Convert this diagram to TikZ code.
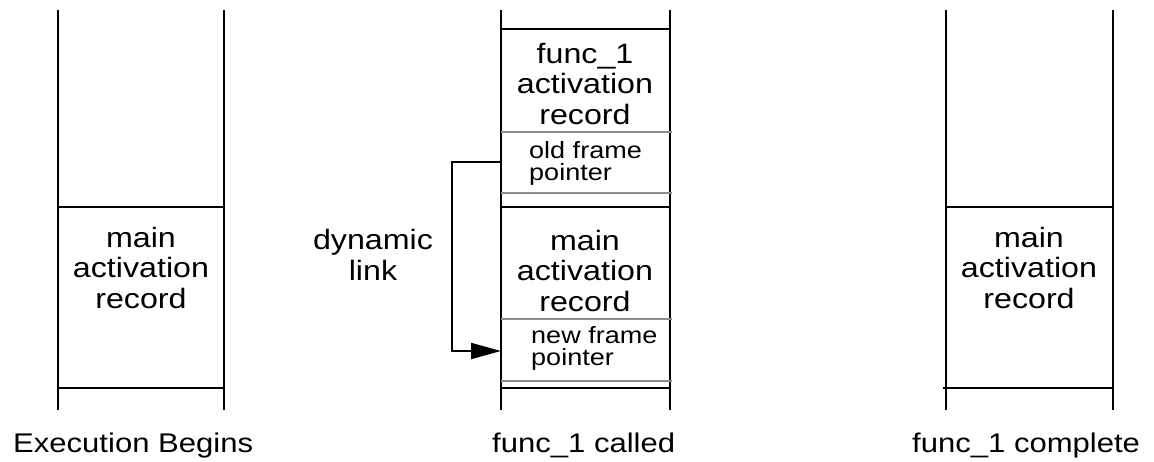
\documentclass[tikz,border=0pt]{standalone}
\usepackage{fontspec}
\setmainfont{Liberation Sans}[FakeStretch=1.15]
\usetikzlibrary{arrows.meta}
\begin{document}
\begin{tikzpicture}[x=1pt,y=-1pt,
  wallline/.style={line width=1.8pt,black},
  blkline/.style={line width=1.8pt,black},
  gryline/.style={line width=1.4pt,gray!90},
  bigtext/.style={inner sep=0pt,align=center,anchor=base,font=\fontsize{28}{30.5}\selectfont},
  smalltext/.style={inner sep=0pt,align=left,anchor=base west,font=\fontsize{23.5}{22}\selectfont},
  captext/.style={inner sep=0pt,anchor=base west,font=\fontsize{27}{30}\selectfont},
  dynlink/.style={line width=1.8pt,-{Triangle[length=30pt,width=16pt]}}]
\useasboundingbox (0,0) rectangle (1154,461);
% ---------- left stack: Execution Begins
\draw[wallline] (58,10) -- (58,410);
\draw[wallline] (224,10) -- (224,410);
\draw[blkline] (58,207) -- (224,207);
\draw[blkline] (58,388) -- (224,388);
\node[bigtext] (mainA) at (141,308) {main\\activation\\record};
\node[captext] (capA) at (13,452) {Execution Begins};
% ---------- middle stack: func_1 called
\draw[wallline] (501,10) -- (501,410);
\draw[wallline] (670,10) -- (670,410);
\draw[blkline] (501,29) -- (670,29);
\draw[gryline] (501,132) -- (672,132);
\draw[gryline] (501,193) -- (672,193);
\draw[blkline] (501,207) -- (670,207);
\draw[gryline] (501,319) -- (672,319);
\draw[gryline] (501,381) -- (672,381);
\draw[blkline] (501,388) -- (670,388);
\node[bigtext] (funcB) at (585,124) {func\_1\\activation\\record};
\node[smalltext] (ofp) at (529,180) {old frame\\pointer};
\node[bigtext] (mainB) at (585,311) {main\\activation\\record};
\node[smalltext] (nfp) at (531,365) {new frame\\pointer};
\node[bigtext] (dyn) at (373,280) {dynamic\\link};
\node[captext] (capB) at (492,452) {func\_1 called};
\coordinate (ofpL) at (501,162);
\coordinate (nfpL) at (501,351);
\draw[dynlink] (ofpL) -- (452,162) |- (nfpL);
% ---------- right stack: func_1 complete
\draw[wallline] (946,10) -- (946,410);
\draw[wallline] (1113,10) -- (1113,410);
\draw[blkline] (946,207) -- (1113,207);
\draw[blkline] (943,388) -- (1113,388);
\node[bigtext] (mainC) at (1029,308) {main\\activation\\record};
\node[captext] (capC) at (912,452) {func\_1 complete};
\end{tikzpicture}
\end{document}
